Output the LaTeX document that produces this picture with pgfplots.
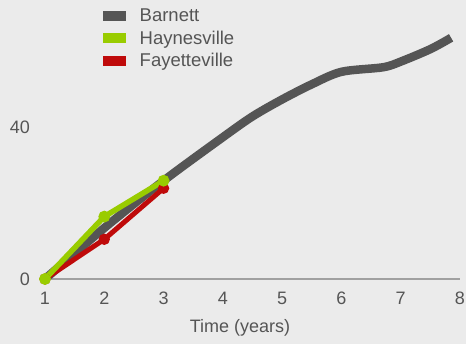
\documentclass[border=0pt]{standalone}
\usepackage{pgfplots}
\pgfplotsset{compat=1.18}
\usepackage{fontspec}
\setmainfont{Liberation Sans}
\definecolor{bg}{HTML}{EBEBEB}
\definecolor{txt}{HTML}{555555}
\definecolor{barnett}{HTML}{555555}
\definecolor{hay}{HTML}{99CC00}
\definecolor{fay}{HTML}{BF0A0A}
\definecolor{axl}{HTML}{A0A0A0}
\begin{document}
\begin{tikzpicture}
\fill[bg] (-45pt,-65pt) rectangle (421pt,279pt);
\useasboundingbox (-45pt,-65pt) rectangle (421pt,279pt);
\begin{axis}[
  at={(0pt,0pt)}, anchor=origin,
  scale only axis, width=415pt, height=279pt,
  xmin=1, xmax=8, ymin=0, ymax=73.8,
  clip=false,
  axis x line*=bottom,
  axis y line*=left,
  x axis line style={axl, line width=2pt, -},
  y axis line style={draw=none},
  xtick={1,2,3,4,5,6,7,8},
  ytick={0,40},
  major tick length=0pt,
  tick style={draw=none},
  font=\fontsize{18}{20}\selectfont,
  ticklabel style={text=txt, font=\fontsize{18}{20}\selectfont},
  xticklabel style={anchor=base, yshift=-25.5pt},
  yticklabel style={anchor=east, inner sep=0pt, xshift=-15pt},
  /pgf/number format/assume math mode=true,
  xlabel={Time (years)},
  xlabel style={at={(rel axis cs:0.47,0)}, anchor=center, yshift=-49pt, text=txt},
  legend cell align=left,
  legend style={draw=none, fill=none, at={(rel axis cs:0.14,0.975)}, anchor=north west,
    text=txt, font=\fontsize{18.5}{20}\selectfont, row sep=3.5pt, inner sep=0pt,
    /tikz/every odd column/.append style={column sep=12pt}},
  legend image code/.code={\fill[#1] (0pt,-4pt) rectangle (22pt,5pt);},
]
\addlegendimage{barnett}
\addlegendentry{Barnett}
\addlegendimage{hay}
\addlegendentry{Haynesville}
\addlegendimage{fay}
\addlegendentry{Fayetteville}
\addplot[barnett, line width=8.5pt, smooth, tension=0.5, forget plot] coordinates {
(1,0) (2,13.5) (3,26) (4,37.5) (4.5,43) (5,47.5) (5.5,51.5) (6,54.8) (6.7,56) (7,57.5) (7.5,60.8) (7.85,63.8)};
\addplot[fay, line width=5pt, mark=*, mark size=3pt, forget plot] coordinates {
(1,0) (2,10.5) (3,24)};
\addplot[hay, line width=5.5pt, mark=*, mark size=3pt, forget plot] coordinates {
(1,0) (2,16.5) (3,26)};
\addplot[hay, only marks, mark=*, mark size=4.5pt, forget plot] coordinates {(1,0)};
\end{axis}
\end{tikzpicture}
\end{document}
